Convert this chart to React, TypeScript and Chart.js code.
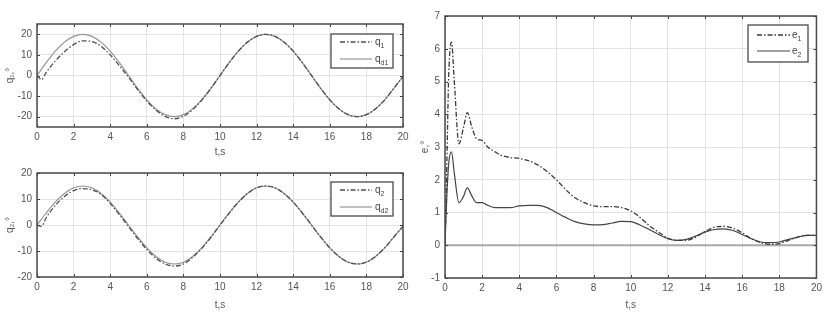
import React, { useEffect, useRef } from "react";
import { Chart, registerables } from "chart.js";
Chart.register(...registerables);

// ---------- data ----------
const tQ = [0, 0.25, 0.5, 1, 1.5, 2, 2.5, 3, 3.5, 4, 4.5, 5, 5.5, 6, 6.5, 7, 7.5, 8, 8.5, 9, 9.5, 10, 10.5, 11, 11.5, 12, 12.5, 13, 13.5, 14, 14.5, 15, 15.5, 16, 16.5, 17, 17.5, 18, 18.5, 19, 19.5, 20];
const q1 = [0, -2, 1.5, 7, 11.5, 15, 16.8, 16.5, 14.2, 10, 4.8, -0.8, -6.8, -12.3, -16.8, -19.8, -21, -19.8, -16.6, -12, -6.3, 0, 6.2, 11.8, 16.2, 19, 20, 19, 16.2, 11.8, 6.2, 0, -6.2, -11.8, -16.2, -19, -20, -19, -16.2, -11.8, -6.2, -0.5];
const qd1 = [0, 3.1, 6.2, 11.8, 16.2, 19, 20, 19, 16.2, 11.8, 6.2, 0, -6.2, -11.8, -16.2, -19, -20, -19, -16.2, -11.8, -6.2, 0, 6.2, 11.8, 16.2, 19, 20, 19, 16.2, 11.8, 6.2, 0, -6.2, -11.8, -16.2, -19, -20, -19, -16.2, -11.8, -6.2, -0.5];
const q2 = [0, -0.5, 2.8, 7.5, 11, 13.2, 14, 13.6, 11.8, 8.3, 4, -0.6, -5.2, -9.4, -12.8, -15, -15.8, -15, -12.5, -9, -4.8, 0, 4.6, 8.8, 12.1, 14.3, 15, 14.3, 12.1, 8.8, 4.6, 0, -4.6, -8.8, -12.1, -14.3, -15, -14.3, -12.1, -8.8, -4.6, -0.5];
const qd2 = [0, 2.3, 4.6, 8.8, 12.1, 14.3, 15, 14.3, 12.1, 8.8, 4.6, 0, -4.6, -8.8, -12.1, -14.3, -15, -14.3, -12.1, -8.8, -4.6, 0, 4.6, 8.8, 12.1, 14.3, 15, 14.3, 12.1, 8.8, 4.6, 0, -4.6, -8.8, -12.1, -14.3, -15, -14.3, -12.1, -8.8, -4.6, -0.5];

const tE = [0, 0.1, 0.2, 0.35, 0.5, 0.75, 1, 1.2, 1.45, 1.7, 2, 2.3, 2.7, 3, 3.5, 4, 4.5, 5, 5.5, 6, 6.5, 7, 7.5, 8, 8.5, 9, 9.5, 10, 10.5, 11, 11.5, 12, 12.5, 13, 13.5, 14, 14.5, 15, 15.5, 16, 16.5, 17, 17.5, 18, 18.5, 19, 19.5, 20];
const e1 = [0, 2.5, 5.2, 6.2, 5.0, 3.1, 3.6, 4.05, 3.6, 3.25, 3.2, 3.0, 2.85, 2.75, 2.68, 2.65, 2.58, 2.45, 2.25, 2.0, 1.7, 1.45, 1.3, 1.2, 1.18, 1.18, 1.15, 1.05, 0.85, 0.6, 0.4, 0.22, 0.15, 0.15, 0.25, 0.42, 0.55, 0.58, 0.52, 0.38, 0.2, 0.08, 0.03, 0.05, 0.15, 0.25, 0.3, 0.3];
const e2 = [0, 1.5, 2.5, 2.85, 2.2, 1.3, 1.5, 1.75, 1.5, 1.3, 1.3, 1.22, 1.15, 1.15, 1.15, 1.2, 1.22, 1.22, 1.15, 1.0, 0.85, 0.72, 0.65, 0.62, 0.63, 0.68, 0.73, 0.72, 0.62, 0.48, 0.33, 0.2, 0.15, 0.18, 0.28, 0.4, 0.48, 0.5, 0.45, 0.33, 0.2, 0.1, 0.08, 0.1, 0.18, 0.25, 0.3, 0.3];
const zeroT = [0, 20];
const zeroV = [0, 0];

const xTicks = [0, 2, 4, 6, 8, 10, 12, 14, 16, 18, 20];
const yTicksQ = [-20, -10, 0, 10, 20];
const yTicksE = [-1, 0, 1, 2, 3, 4, 5, 6, 7];

const FONT = "'Liberation Sans', Arial, sans-serif";
const DASHDOT = [5, 2, 1.5, 2];

const pts = (xs: number[], ys: number[]) => xs.map((x, i) => ({ x, y: ys[i] }));

const framePlugin = {
  id: "frame",
  afterDatasetsDraw(chart: any, _a: any, opts: any) {
    const { ctx, chartArea: a } = chart;
    ctx.save();
    ctx.strokeStyle = "#444";
    ctx.lineWidth = 1;
    const xs = chart.scales.x, ys = chart.scales.y;
    xs.ticks.forEach((t: any) => {
      const px = Math.round(xs.getPixelForValue(t.value)) + 0.5;
      ctx.beginPath();
      ctx.moveTo(px, a.bottom); ctx.lineTo(px, a.bottom - 3);
      ctx.moveTo(px, a.top); ctx.lineTo(px, a.top + 3);
      ctx.stroke();
    });
    ys.ticks.forEach((t: any) => {
      const py = Math.round(ys.getPixelForValue(t.value)) + 0.5;
      ctx.beginPath();
      ctx.moveTo(a.left, py); ctx.lineTo(a.left + 3, py);
      ctx.moveTo(a.right, py); ctx.lineTo(a.right - 3, py);
      ctx.stroke();
    });
    ctx.strokeStyle = "#4a4a4a";
    ctx.lineWidth = 1.5;
    ctx.strokeRect(a.left, a.top, a.right - a.left, a.bottom - a.top);

    const lg = opts.legend;
    if (lg) {
      ctx.fillStyle = "#fff";
      ctx.fillRect(lg.x, lg.y, lg.w, lg.h);
      ctx.strokeStyle = "#4a4a4a";
      ctx.lineWidth = 1.3;
      ctx.strokeRect(lg.x, lg.y, lg.w, lg.h);
      lg.items.forEach((it: any, i: number) => {
        const y = lg.rows[i];
        ctx.setLineDash(it.dash || []);
        ctx.strokeStyle = it.color;
        ctx.lineWidth = it.width;
        ctx.beginPath();
        ctx.moveTo(lg.lx0, y); ctx.lineTo(lg.lx1, y);
        ctx.stroke();
        ctx.setLineDash([]);
        ctx.fillStyle = "#444";
        ctx.textBaseline = "middle";
        ctx.textAlign = "left";
        ctx.font = `10px ${FONT}`;
        ctx.fillText(it.main, lg.tx, y);
        const w = ctx.measureText(it.main).width;
        ctx.font = `7px ${FONT}`;
        ctx.fillText(it.sub, lg.tx + w, y + 4);
      });
    }
    ctx.restore();
  },
};

function makeConfig(p: {
  datasets: any[];
  yMin: number; yMax: number; yTicks: number[];
  yTitle: string;
  padTop: number; padRight: number; yWidth: number; xHeight: number;
  legend: any;
}) {
  return {
    type: "line",
    data: { datasets: p.datasets },
    options: {
      responsive: false,
      animation: false,
      layout: { padding: { top: p.padTop, right: p.padRight, left: 0, bottom: 0 } },
      elements: { point: { radius: 0 }, line: { cubicInterpolationMode: "monotone" } },
      plugins: {
        legend: { display: false },
        tooltip: { enabled: false },
        frame: { legend: p.legend },
      },
      scales: {
        x: {
          type: "linear",
          min: xTicks[0], max: xTicks[xTicks.length - 1],
          afterBuildTicks: (s: any) => { s.ticks = xTicks.map((v) => ({ value: v })); },
          afterFit: (s: any) => { s.height = p.xHeight; },
          ticks: { color: "#555", font: { family: FONT, size: 10 }, padding: 4, maxRotation: 0 },
          grid: { color: "#e4e4e4", drawTicks: false },
          border: { display: false },
          title: { display: true, text: "t,s", color: "#555", font: { family: FONT, size: 10 }, padding: { top: 0, bottom: 2 } },
        },
        y: {
          type: "linear",
          min: p.yMin, max: p.yMax,
          afterBuildTicks: (s: any) => { s.ticks = p.yTicks.map((v) => ({ value: v })); },
          afterFit: (s: any) => { s.width = p.yWidth; },
          ticks: { color: "#555", font: { family: FONT, size: 10 }, padding: 5 },
          grid: { color: "#e4e4e4", drawTicks: false },
          border: { display: false },
          title: { display: true, text: p.yTitle, color: "#555", font: { family: FONT, size: 10 }, padding: { top: 4, bottom: 0 } },
        },
      },
    },
    plugins: [framePlugin],
  };
}

function ChartBox({ left, top, width, height, config }: any) {
  const ref = useRef<HTMLCanvasElement | null>(null);
  useEffect(() => {
    if (!ref.current) return;
    const c = new Chart(ref.current, config);
    return () => c.destroy();
  }, []);
  return (
    <canvas
      ref={ref}
      width={width}
      height={height}
      style={{ position: "absolute", left, top, width, height }}
    />
  );
}

const configA = makeConfig({
  datasets: [
    { label: "q1", data: pts(tQ, q1), borderColor: "#505050", borderWidth: 1.3, borderDash: DASHDOT },
    { label: "qd1", data: pts(tQ, qd1), borderColor: "#959595", borderWidth: 1.2 },
  ],
  yMin: -25, yMax: 25, yTicks: yTicksQ, yTitle: "q₁,°",
  padTop: 24, padRight: 12, yWidth: 37, xHeight: 33,
  legend: {
    x: 331, y: 34, w: 62, h: 34, rows: [42, 59], lx0: 340, lx1: 372, tx: 375,
    items: [
      { main: "q", sub: "1", color: "#505050", width: 1.3, dash: DASHDOT },
      { main: "q", sub: "d1", color: "#959595", width: 1.2 },
    ],
  },
});

const configB = makeConfig({
  datasets: [
    { label: "q2", data: pts(tQ, q2), borderColor: "#505050", borderWidth: 1.3, borderDash: DASHDOT },
    { label: "qd2", data: pts(tQ, qd2), borderColor: "#959595", borderWidth: 1.2 },
  ],
  yMin: -20, yMax: 20, yTicks: yTicksQ, yTitle: "q₂,°",
  padTop: 23, padRight: 12, yWidth: 37, xHeight: 36,
  legend: {
    x: 331, y: 32, w: 62, h: 34, rows: [40, 57], lx0: 340, lx1: 372, tx: 375,
    items: [
      { main: "q", sub: "2", color: "#505050", width: 1.3, dash: DASHDOT },
      { main: "q", sub: "d2", color: "#959595", width: 1.2 },
    ],
  },
});

const configC = makeConfig({
  datasets: [
    { label: "e1", data: pts(tE, e1), borderColor: "#3a3a3a", borderWidth: 1.3, borderDash: DASHDOT },
    { label: "e2", data: pts(tE, e2), borderColor: "#444", borderWidth: 1.2 },
    { label: "zero", data: pts(zeroT, zeroV), borderColor: "#a8a8a8", borderWidth: 2 },
  ],
  yMin: -1, yMax: 7, yTicks: yTicksE, yTitle: "e,°",
  padTop: 16, padRight: 9, yWidth: 30, xHeight: 35,
  legend: {
    x: 333, y: 25, w: 60, h: 37, rows: [35, 51], lx0: 342, lx1: 375, tx: 377,
    items: [
      { main: "e", sub: "1", color: "#3a3a3a", width: 1.3, dash: DASHDOT },
      { main: "e", sub: "2", color: "#444", width: 1.2 },
    ],
  },
});

export default function App() {
  return (
    <div style={{ position: "absolute", left: 0, top: 0, width: 826, height: 313, background: "#fff", overflow: "hidden" }}>
      <ChartBox left={0} top={0} width={415} height={160} config={configA} />
      <ChartBox left={0} top={150} width={415} height={163} config={configB} />
      <ChartBox left={415} top={0} width={411} height={313} config={configC} />
    </div>
  );
}
